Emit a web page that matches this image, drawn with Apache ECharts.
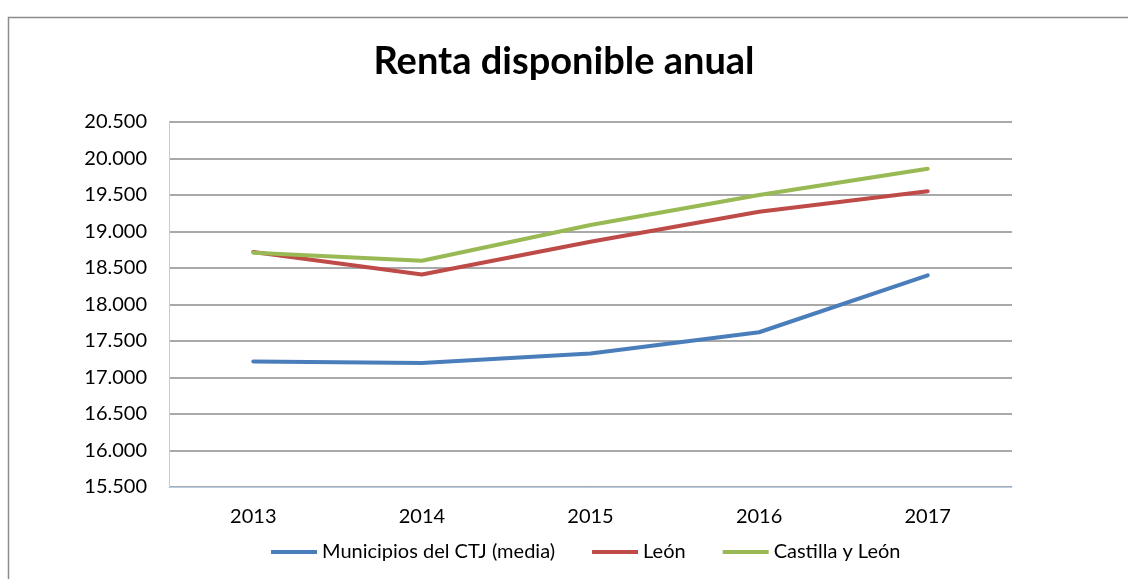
<!DOCTYPE html>
<html>
<head>
<meta charset="utf-8">
<script src="https://cdn.jsdelivr.net/npm/echarts@6/dist/echarts.min.js"></script>
<style>
  html, body { margin: 0; padding: 0; background: #fff; }
  #chart { width: 1128px; height: 579px; }
</style>
</head>
<body>
<div id="chart"></div>
<script>
const years = ['2013', '2014', '2015', '2016', '2017']
const municipios = [17220, 17200, 17330, 17620, 18400]
const leon = [18720, 18410, 18860, 19270, 19550]
const castilla = [18710, 18600, 19090, 19500, 19860]
const names = ['Municipios del CTJ (media)', 'León', 'Castilla y León']
const colors = ['#4a7ebb', '#be4b48', '#98b954']

const FONT = 'Lato, "Open Sans", sans-serif'

const fmt = v => {
  // miles con punto
  return String(v).replace(/\B(?=(\d{3})+(?!\d))/g, '.')
}

const mkLine = (name, data, color) => {
  return {
    name: name,
    type: 'line',
    data: data,
    symbol: 'none',
    lineStyle: { width: 4, color: color, cap: 'round', join: 'round' },
    itemStyle: { color: color },
    animation: false
  }
}

const option = {
  backgroundColor: '#fff',
  title: {
    text: 'Renta disponible anual',
    left: 'center',
    top: 38,
    textStyle: { fontFamily: FONT, fontSize: 38, fontWeight: 'bold', color: '#000' }
  },
  graphic: [{
    type: 'rect',
    shape: { x: 8.5, y: 17.5, width: 1200, height: 700 },
    style: { fill: 'none', stroke: '#8c8c8c', lineWidth: 1.5 },
    silent: true
  }],
  grid: { left: 169, right: 116, top: 122, bottom: 92 },
  legend: {
    bottom: 12,
    left: 266,
    icon: 'rect',
    itemWidth: 46,
    itemHeight: 4,
    itemGap: 37,
    textStyle: { fontFamily: FONT, fontSize: 20, color: '#000' },
    data: names
  },
  xAxis: {
    type: 'category',
    data: years,
    boundaryGap: true,
    axisLine: { lineStyle: { color: '#b9cde5', width: 1 } },
    axisTick: { show: false },
    axisLabel: { fontFamily: FONT, fontSize: 20, color: '#000', margin: 20 }
  },
  yAxis: {
    type: 'value',
    min: 15500,
    max: 20500,
    interval: 500,
    axisLine: { show: true, lineStyle: { color: '#b9cde5', width: 1 } },
    axisTick: { show: false },
    splitLine: { lineStyle: { color: '#8c8c8c', width: 1.5 } },
    axisLabel: { fontFamily: FONT, fontSize: 20, color: '#000', margin: 22, formatter: fmt }
  },
  series: [
    mkLine(names[0], municipios, colors[0]),
    mkLine(names[1], leon, colors[1]),
    mkLine(names[2], castilla, colors[2])
  ]
}

const myChart = echarts.init(document.getElementById('chart'))
myChart.setOption(option)
</script>
</body>
</html>
